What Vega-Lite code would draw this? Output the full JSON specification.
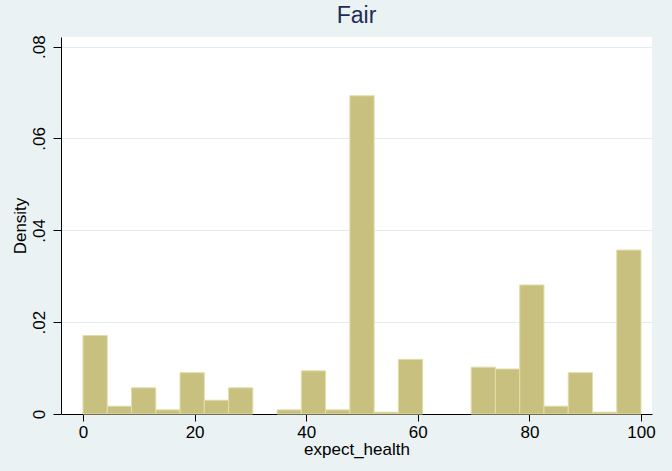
{
  "$schema": "https://vega.github.io/schema/vega-lite/v6.json",
  "width": 591,
  "height": 377,
  "autosize": {"type": "none"},
  "padding": {"left": 61, "top": 37, "right": 20, "bottom": 57},
  "background": "#EAF2F3",
  "view": {"fill": "white", "stroke": null},
  "title": {"text": "Fair", "fontSize": 23, "font": "Liberation Sans", "fontWeight": "normal", "color": "#1E2D53", "offset": 7, "anchor": "middle"},
  "data": {"values": [
    {"bin_start": 0, "bin_end": 4.348, "density": 0.0171},
    {"bin_start": 4.348, "bin_end": 8.696, "density": 0.0017},
    {"bin_start": 8.696, "bin_end": 13.043, "density": 0.0057},
    {"bin_start": 13.043, "bin_end": 17.391, "density": 0.0009},
    {"bin_start": 17.391, "bin_end": 21.739, "density": 0.0090},
    {"bin_start": 21.739, "bin_end": 26.087, "density": 0.0030},
    {"bin_start": 26.087, "bin_end": 30.435, "density": 0.0057},
    {"bin_start": 34.783, "bin_end": 39.130, "density": 0.0009},
    {"bin_start": 39.130, "bin_end": 43.478, "density": 0.0094},
    {"bin_start": 43.478, "bin_end": 47.826, "density": 0.0009},
    {"bin_start": 47.826, "bin_end": 52.174, "density": 0.0693},
    {"bin_start": 52.174, "bin_end": 56.522, "density": 0.0004},
    {"bin_start": 56.522, "bin_end": 60.870, "density": 0.0119},
    {"bin_start": 69.565, "bin_end": 73.913, "density": 0.0102},
    {"bin_start": 73.913, "bin_end": 78.261, "density": 0.0098},
    {"bin_start": 78.261, "bin_end": 82.609, "density": 0.0281},
    {"bin_start": 82.609, "bin_end": 86.957, "density": 0.0017},
    {"bin_start": 86.957, "bin_end": 91.304, "density": 0.0090},
    {"bin_start": 91.304, "bin_end": 95.652, "density": 0.0004},
    {"bin_start": 95.652, "bin_end": 100, "density": 0.0357}
  ]},
  "mark": {"type": "rect", "fill": "#C8C07E", "stroke": "#E2DDAA", "strokeWidth": 1},
  "encoding": {
    "x": {
      "field": "bin_start", "type": "quantitative",
      "scale": {"domain": [-3.94, 101.97], "nice": false, "zero": false},
      "axis": {
        "title": "expect_health", "values": [0, 20, 40, 60, 80, 100],
        "grid": false, "domainColor": "#000000", "tickColor": "#000000", "tickSize": 7,
        "labelColor": "#000000", "labelFont": "Liberation Sans", "labelFontSize": 17, "labelPadding": 3,
        "titleColor": "#000000", "titleFont": "Liberation Sans", "titleFontSize": 17, "titleFontWeight": "normal", "titlePadding": 1
      }
    },
    "x2": {"field": "bin_end"},
    "y": {
      "field": "density", "type": "quantitative",
      "scale": {"domain": [0, 0.0821], "nice": false},
      "axis": {
        "title": "Density", "values": [0, 0.02, 0.04, 0.06, 0.08],
        "labelExpr": "datum.value == 0 ? '0' : slice(format(datum.value, '.2f'), 1)",
        "grid": true, "gridColor": "#E3ECF0", "gridWidth": 1,
        "domainColor": "#000000", "tickColor": "#000000", "tickSize": 8,
        "labelAngle": -90, "labelAlign": "center", "labelBaseline": "bottom", "labelPadding": 5,
        "labelColor": "#000000", "labelFont": "Liberation Sans", "labelFontSize": 17,
        "titleColor": "#000000", "titleFont": "Liberation Sans", "titleFontSize": 17, "titleFontWeight": "normal", "titlePadding": 1
      }
    },
    "y2": {"datum": 0}
  }
}
